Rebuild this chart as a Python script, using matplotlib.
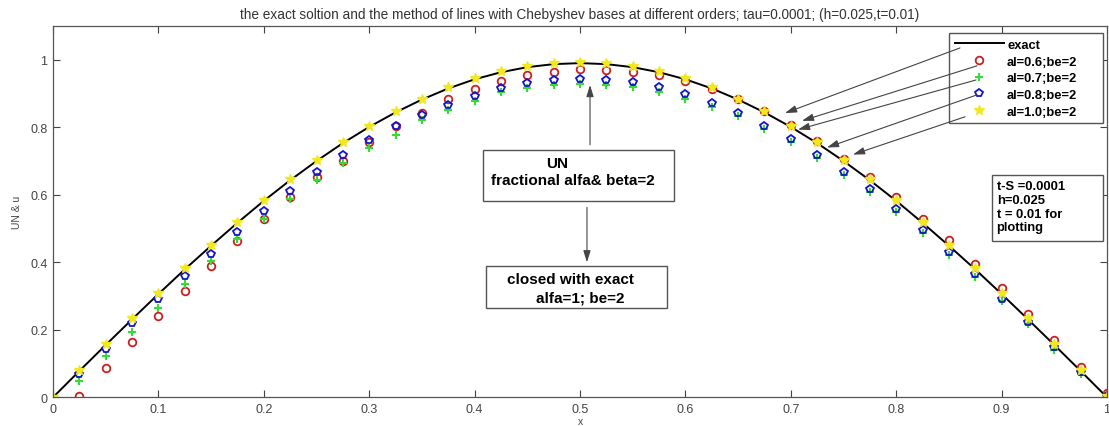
import numpy as np
import matplotlib
matplotlib.use("Agg")
import matplotlib.pyplot as plt
from matplotlib.patches import Rectangle

plt.rcParams['font.family'] = ['Liberation Sans', 'DejaVu Sans']

# grid points
x_all = [0.000, 0.025, 0.050, 0.075, 0.100, 0.125, 0.150, 0.175, 0.200, 0.225,
         0.250, 0.275, 0.300, 0.325, 0.350, 0.375, 0.400, 0.425, 0.450, 0.475,
         0.500, 0.525, 0.550, 0.575, 0.600, 0.625, 0.650, 0.675, 0.700, 0.725,
         0.750, 0.775, 0.800, 0.825, 0.850, 0.875, 0.900, 0.925, 0.950, 0.975,
         1.000]
x_in = x_all[1:]

exact = [0.000, 0.078, 0.155, 0.231, 0.306, 0.379, 0.449, 0.517, 0.582, 0.643,
         0.700, 0.753, 0.801, 0.844, 0.882, 0.915, 0.942, 0.963, 0.978, 0.987,
         0.990, 0.987, 0.978, 0.963, 0.942, 0.915, 0.882, 0.844, 0.801, 0.753,
         0.700, 0.643, 0.582, 0.517, 0.449, 0.379, 0.306, 0.231, 0.155, 0.078,
         0.000]

al06 = [0.003, 0.086, 0.163, 0.242, 0.316, 0.390, 0.462, 0.528, 0.593, 0.653,
        0.700, 0.757, 0.805, 0.842, 0.883, 0.912, 0.937, 0.955, 0.965, 0.972,
        0.971, 0.965, 0.955, 0.937, 0.913, 0.885, 0.847, 0.806, 0.759, 0.707,
        0.653, 0.593, 0.529, 0.465, 0.394, 0.323, 0.248, 0.169, 0.090, 0.014]

al07 = [0.049, 0.121, 0.194, 0.266, 0.335, 0.404, 0.468, 0.527, 0.588, 0.645,
        0.695, 0.738, 0.778, 0.822, 0.851, 0.878, 0.905, 0.915, 0.925, 0.927,
        0.925, 0.918, 0.905, 0.885, 0.860, 0.832, 0.795, 0.757, 0.710, 0.660,
        0.607, 0.550, 0.487, 0.423, 0.356, 0.285, 0.216, 0.141, 0.068, 0.000]

al08 = [0.069, 0.143, 0.219, 0.290, 0.359, 0.426, 0.490, 0.553, 0.612, 0.666,
        0.719, 0.761, 0.804, 0.837, 0.866, 0.894, 0.916, 0.930, 0.940, 0.942,
        0.940, 0.933, 0.920, 0.899, 0.873, 0.843, 0.805, 0.766, 0.719, 0.668,
        0.617, 0.558, 0.495, 0.431, 0.364, 0.292, 0.223, 0.148, 0.074, 0.005]

al10 = [0.000, 0.080, 0.158, 0.234, 0.309, 0.382, 0.452, 0.520, 0.585, 0.646,
        0.703, 0.756, 0.804, 0.847, 0.885, 0.918, 0.945, 0.966, 0.981, 0.990,
        0.993, 0.990, 0.981, 0.966, 0.945, 0.918, 0.885, 0.847, 0.804, 0.756,
        0.703, 0.646, 0.585, 0.520, 0.452, 0.382, 0.309, 0.234, 0.158, 0.080,
        0.003]

xticks = [0, 0.1, 0.2, 0.3, 0.4, 0.5, 0.6, 0.7, 0.8, 0.9, 1]
xticklabels = ['0', '0.1', '0.2', '0.3', '0.4', '0.5', '0.6', '0.7', '0.8', '0.9', '1']
yticks = [0, 0.2, 0.4, 0.6, 0.8, 1]
yticklabels = ['0', '0.2', '0.4', '0.6', '0.8', '1']

fig = plt.figure(figsize=(11.09, 4.27), dpi=100)
ax = fig.add_axes([0.0478, 0.0672, 0.9504, 0.8696])

ax.plot(x_all, exact, color='black', lw=1.4, label='exact')
ax.plot(x_in, al06, ls='none', marker='o', ms=5.5, mfc='none', mec='#cc2020',
        mew=1.3, label='al=0.6;be=2')
ax.plot(x_in, al07, ls='none', marker='+', ms=6, color='#33dd33',
        mew=1.5, label='al=0.7;be=2')
ax.plot(x_in, al08, ls='none', marker='p', ms=5.5, mfc='none', mec='#1515c8',
        mew=1.3, label='al=0.8;be=2')
ax.plot(x_all, al10, ls='none', marker='*', ms=7, color='#f2e81e',
        mew=1.0, label='al=1.0;be=2')

ax.set_xlim(0, 1)
ax.set_ylim(0, 1.1)
ax.set_xticks(xticks)
ax.set_xticklabels(xticklabels)
ax.set_yticks(yticks)
ax.set_yticklabels(yticklabels)
ax.tick_params(direction='in', top=True, right=True, length=5, width=0.8,
               labelsize=9, colors='#444444', pad=4)
for sp in ax.spines.values():
    sp.set_color('#555555')
    sp.set_linewidth(0.9)

ax.set_xlabel('x', fontsize=7.5, color='#444444', labelpad=1)
ax.set_ylabel('UN & u', fontsize=7.5, color='#444444', labelpad=6)
ax.set_title('the exact soltion and the method of lines with Chebyshev bases at '
             'different orders; tau=0.0001; (h=0.025,t=0.01)',
             fontsize=9.8, color='#333333', pad=6)

leg = ax.legend(loc='upper left', bbox_to_anchor=(0.850, 0.748, 0.146, 0.233),
                mode='expand', fancybox=False, framealpha=1, edgecolor='#555555',
                prop={'size': 9.3, 'weight': 'bold'}, handlelength=3.8,
                labelspacing=0.36, borderpad=0.45, handletextpad=0.25,
                borderaxespad=0)
leg.get_frame().set_linewidth(1.0)

# arrows from the legend to the curves
arrow_kw = dict(arrowstyle='-|>,head_length=0.7,head_width=0.22',
                color='#444444', lw=0.8, shrinkA=0, shrinkB=0)
starts = [(0.8605, 1.035), (0.8767, 0.982), (0.8757, 0.940), (0.8767, 0.896), (0.8653, 0.831)]
ends = [(0.6945, 0.842), (0.7106, 0.819), (0.7068, 0.793), (0.7343, 0.740), (0.7590, 0.719)]
for s, e in zip(starts, ends):
    ax.annotate('', xy=e, xytext=s, arrowprops=arrow_kw, zorder=8,
                annotation_clip=False)

# text boxes
box_kw = dict(fill=True, facecolor='white', edgecolor='#555555', lw=1.0, zorder=6)
ax.add_patch(Rectangle((0.408, 0.581), 0.181, 0.1505, **box_kw))
ax.add_patch(Rectangle((0.411, 0.264), 0.1715, 0.124, **box_kw))
ax.add_patch(Rectangle((0.891, 0.462), 0.105, 0.198, **box_kw))

txt_kw = dict(fontsize=11, fontweight='bold', ha='center', va='center', zorder=7)
ax.text(0.478, 0.695, 'UN', **txt_kw)
ax.text(0.4934, 0.645, 'fractional alfa& beta=2', **txt_kw)
ax.text(0.4905, 0.3494, 'closed with exact', **txt_kw)
ax.text(0.500, 0.2963, 'alfa=1; be=2', **txt_kw)
ax.text(0.8953, 0.5645, 't-S =0.0001\nh=0.025\nt = 0.01 for\nplotting',
        fontsize=9.4, fontweight='bold', ha='left', va='center',
        linespacing=1.2, zorder=7)

ax.annotate('', xy=(0.5095, 0.925), xytext=(0.5095, 0.748), arrowprops=arrow_kw, zorder=8)
ax.annotate('', xy=(0.5066, 0.400), xytext=(0.5066, 0.5625), arrowprops=arrow_kw, zorder=8)

fig.savefig('out.png', dpi=100)
